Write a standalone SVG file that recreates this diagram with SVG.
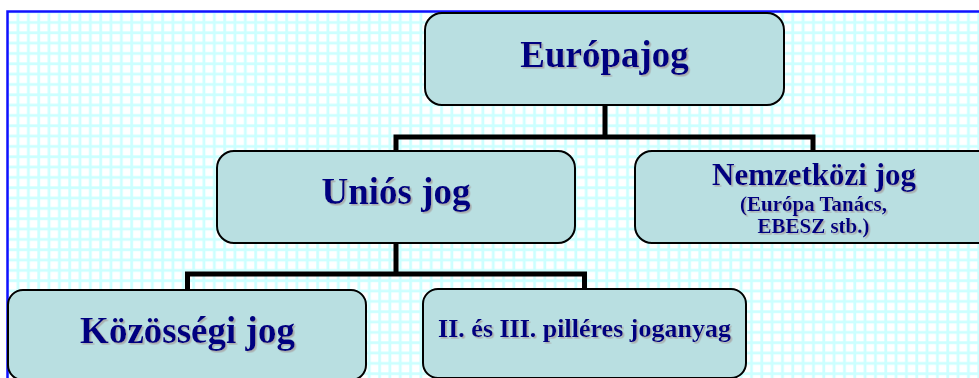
<svg xmlns="http://www.w3.org/2000/svg" width="979" height="378" viewBox="0 0 979 378">
  <defs>
    <pattern id="grid" patternUnits="userSpaceOnUse" x="8.9" y="13.3" width="10.33" height="10.33">
      <rect x="0" y="0" width="10.33" height="10.33" fill="#ccffff"/>
      <rect x="0.2" y="0.2" width="7.6" height="7.6" fill="#ffffff"/>
    </pattern>
    <filter id="shadow" x="-10%" y="-20%" width="130%" height="150%">
      <feDropShadow dx="1.6" dy="1.6" stdDeviation="0.6" flood-color="#a8a8a8" flood-opacity="0.9"/>
    </filter>
    <style>
      .box { fill: #b9dfe1; stroke: #000000; stroke-width: 2; }
      .lbl { font-family: "Liberation Serif", "Times New Roman", serif; font-weight: bold; fill: #000080; text-anchor: middle; filter: url(#shadow); }
      .conn { fill: none; stroke: #000000; stroke-width: 5; stroke-linejoin: miter; stroke-linecap: square; }
    </style>
  </defs>

  <rect x="0" y="0" width="979" height="378" fill="#ffffff"/>
  <rect x="8" y="12" width="971" height="366" fill="url(#grid)"/>
  <path d="M7.5 378 V11.5 H979" fill="none" stroke="#1010ff" stroke-width="2.5"/>

  <g id="connectors">
    <path class="conn" d="M605 105 V137 M396 151 V137 H813 V151"/>
    <path class="conn" d="M396 243 V274 M187.5 289 V274 H584.5 V289"/>
  </g>

  <g id="node-europajog">
    <rect class="box" x="425" y="13" width="359" height="92" rx="17" ry="17"/>
    <text class="lbl" x="604.5" y="67" font-size="37">Európajog</text>
  </g>

  <g id="node-unios">
    <rect class="box" x="217" y="151" width="358" height="92" rx="17" ry="17"/>
    <text class="lbl" x="396" y="204" font-size="37">Uniós jog</text>
  </g>

  <g id="node-nemzetkozi">
    <rect class="box" x="635" y="151" width="360" height="92" rx="17" ry="17"/>
    <text class="lbl" x="814" y="185" font-size="31">Nemzetközi jog</text>
    <text class="lbl" x="813.5" y="211" font-size="21">(Európa Tanács,</text>
    <text class="lbl" x="813.5" y="233" font-size="21">EBESZ stb.)</text>
  </g>

  <g id="node-kozossegi">
    <rect class="box" x="8" y="290" width="358" height="90" rx="15" ry="15"/>
    <text class="lbl" x="187.5" y="343" font-size="37">Közösségi jog</text>
  </g>

  <g id="node-pilleres">
    <rect class="box" x="423" y="289" width="323" height="89" rx="15" ry="15"/>
    <text class="lbl" x="584.5" y="337" font-size="26">II. és III. pilléres joganyag</text>
  </g>
</svg>
